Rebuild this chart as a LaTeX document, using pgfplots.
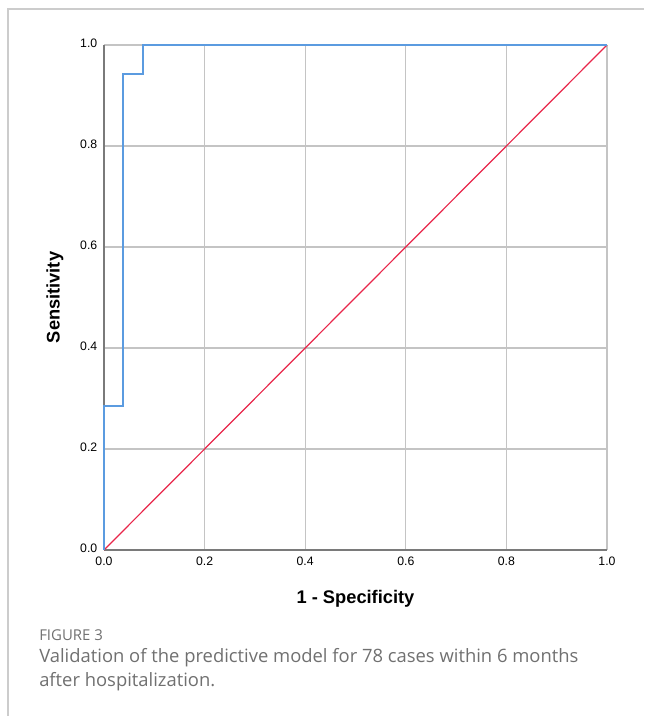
\documentclass[border=0pt]{standalone}
\usepackage{fontspec}
\setmainfont{Liberation Sans}
\newfontfamily\capfont{Open Sans}
\usepackage{pgfplots}
\pgfplotsset{compat=1.18}
\definecolor{roc}{HTML}{5B9BE0}
\definecolor{ref}{HTML}{E8264A}
\definecolor{gridc}{HTML}{C4C4C4}
\definecolor{axc}{HTML}{7A7A7A}
\definecolor{capc}{HTML}{707070}
\definecolor{framec}{HTML}{CCCCCC}
\begin{document}
\begin{tikzpicture}
\path[use as bounding box] (-78pt,-124.5pt) rectangle (405pt,412.5pt);
\draw[framec, line width=0.8pt] (-72pt,-124.5pt) -- (-72pt,405.75pt) -- (405pt,405.75pt);
\begin{axis}[
  at={(0,0)}, anchor=south west,
  scale only axis, width=377.25pt, height=378.75pt,
  xmin=0, xmax=1, ymin=0, ymax=1,
  xtick={0,0.2,0.4,0.6,0.8,1.0}, ytick={0,0.2,0.4,0.6,0.8,1.0},
  /pgf/number format/assume math mode=true,
  /pgf/number format/fixed,
  /pgf/number format/fixed zerofill,
  /pgf/number format/precision=1,
  ticklabel style={font=\fontsize{9.2pt}{10pt}\selectfont},
  major tick length=0pt,
  xtick align=outside, ytick align=outside,
  grid=major, major grid style={gridc, line width=0.8pt},
  axis x line*=bottom, axis y line*=left,
  axis line style={axc, line width=0.9pt, -},
  typeset ticklabels with strut,
  xticklabel style={yshift=-1pt},
  yticklabel style={xshift=-1.5pt},
  xlabel={\textbf{1 - Specificity}},
  ylabel={\textbf{Sensitivity}},
  label style={font=\fontsize{13.7pt}{15pt}\selectfont},
  xlabel style={at={(axis description cs:0.5,-0.097)}, anchor=center},
  ylabel style={at={(axis description cs:-0.0974,0.5)}, anchor=center},
  clip=false,
]
\addplot[ref, line width=0.9pt] coordinates {(0,0) (1,1)};
\addplot[roc, line width=1.3pt] coordinates {
  (0,0) (0,0.2857) (0.0385,0.2857) (0.0385,0.9429) (0.0769,0.9429) (0.0769,1) (1,1)};
\end{axis}
\node[anchor=base west, inner sep=0pt, text=capc, font=\capfont\fontsize{11.2pt}{12pt}\selectfont] at (-48.75pt,-67.5pt) {FIGURE 3};
\node[anchor=base west, inner sep=0pt, text=capc, font=\capfont\fontsize{13.8pt}{17pt}\selectfont] at (-48.75pt,-84pt) {Validation of the predictive model for 78 cases within 6 months};
\node[anchor=base west, inner sep=0pt, text=capc, font=\capfont\fontsize{13.8pt}{17pt}\selectfont] at (-48.75pt,-102pt) {after hospitalization.};
\end{tikzpicture}
\end{document}
